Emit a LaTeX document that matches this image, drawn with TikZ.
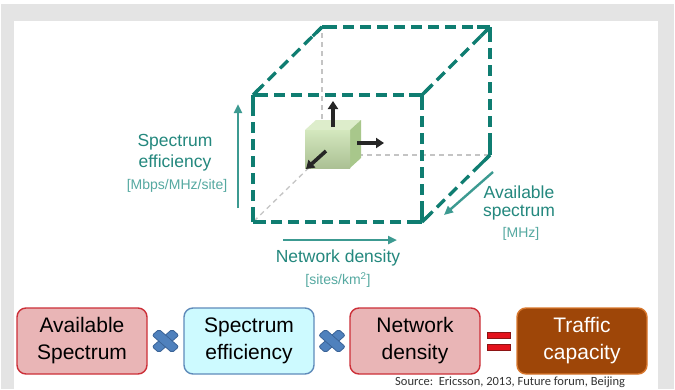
\documentclass[tikz,border=0pt]{standalone}
\usepackage{fontspec}
\setmainfont{Liberation Sans}
\newfontfamily\srcfont{Carlito}
\usetikzlibrary{arrows.meta,calc}

\definecolor{panelgray}{HTML}{E4E4E4}
\definecolor{cubeline}{HTML}{0F7D71}
\definecolor{axisteal}{HTML}{3C9A91}
\definecolor{labelteal}{HTML}{24887E}
\definecolor{unitteal}{HTML}{55A9A1}
\definecolor{hidden}{HTML}{C4C4C4}
\definecolor{pinkfill}{HTML}{E9B5B6}
\definecolor{pinkedge}{HTML}{CC2F38}
\definecolor{cyanfill}{HTML}{CDFAFF}
\definecolor{cyanedge}{HTML}{5F8BBA}
\definecolor{brownfill}{HTML}{9E4608}
\definecolor{brownedge}{HTML}{D9782E}
\definecolor{crossfill}{HTML}{4F81BD}
\definecolor{crossedge}{HTML}{3A6397}
\definecolor{eqfill}{HTML}{E3121C}
\definecolor{eqedge}{HTML}{8C1414}
\definecolor{greenfront}{HTML}{C9E2AE}
\definecolor{greentop}{HTML}{DDEDCB}
\definecolor{greenside}{HTML}{A8C78B}

\newcommand\cubeedge[2]{%
  \draw[edgedash] (#1) -- (#2);
  \draw[edgesolid] (#1) -- ($(#1)!13pt!(#2)$);
  \draw[edgesolid] (#2) -- ($(#2)!13pt!(#1)$);
}
\newcommand\timessign[1]{%
  \begin{scope}[shift={(#1)},yscale=0.88]
    \foreach \ang in {45,-45}{
      \filldraw[fill=crossfill,draw=crossedge,line width=0.8pt,rotate=\ang,rounded corners=2pt]
        (-14,-4.8) rectangle (14,4.8);
    }
    \fill[crossfill,rotate=45] (-4,-4) rectangle (4,4);
  \end{scope}
}

\begin{document}
\begin{tikzpicture}[x=1pt,y=-1pt,
  edgedash/.style={draw=cubeline,line width=3.3pt,dash pattern=on 11pt off 6pt,dash phase=-4pt},
  edgesolid/.style={draw=cubeline,line width=3.3pt,line cap=square},
  hiddenline/.style={draw=hidden,line width=1.3pt,dash pattern=on 5pt off 4pt},
  axisarrow/.style={draw=axisteal,line width=2.4pt,-{Triangle[length=9pt,width=8pt]}},
  pusharrow/.style={draw=black!85,line width=3.6pt,-{Triangle[length=8pt,width=10pt]}},
  axislabel/.style={text=labelteal,font=\fontsize{17.5}{20}\selectfont,inner sep=0pt},
  unitlabel/.style={text=unitteal,font=\fontsize{14}{16}\selectfont,inner sep=0pt},
  factor/.style={rounded corners=9pt,line width=1.4pt,minimum width=130pt,minimum height=66pt,
    align=center,font=\fontsize{21}{27}\selectfont,inner sep=0pt},
]
\useasboundingbox (0,0) rectangle (675,389);

% page frame
\fill[white] (0,0) rectangle (675,389);
\fill[panelgray] (1,4) rectangle (674,389);
\fill[white] (14,20.5) rectangle (658,389);

% cube vertices
\coordinate (F1) at (253,95);
\coordinate (F2) at (422,95);
\coordinate (F3) at (422,222);
\coordinate (F4) at (253,222);
\coordinate (B1) at (322,27);
\coordinate (B2) at (490,27);
\coordinate (B3) at (490,155);
\coordinate (B4) at (322,155);

% hidden edges
\draw[hiddenline] (B4) -- (B1);
\draw[hiddenline] (B4) -- (B3);
\draw[hiddenline] (B4) -- (F4);

% visible edges
\cubeedge{F1}{F2}
\cubeedge{F2}{F3}
\cubeedge{F3}{F4}
\cubeedge{F4}{F1}
\cubeedge{B1}{B2}
\cubeedge{B2}{B3}
\cubeedge{F1}{B1}
\cubeedge{F2}{B2}
\cubeedge{F3}{B3}

% small green cube
\coordinate (g1) at (305,130);
\coordinate (g2) at (350,130);
\coordinate (g3) at (350,168);
\coordinate (g4) at (305,168);
\coordinate (gd) at (11,-10);
\fill[greentop] (g1) -- (g2) -- ($(g2)+(gd)$) -- ($(g1)+(gd)$) -- cycle;
\fill[greenside] (g2) -- ($(g2)+(gd)$) -- ($(g3)+(gd)$) -- (g3) -- cycle;
\shade[top color=greenfront!80!white,bottom color=greenfront!85!black] (g1) rectangle (g3);

% growth arrows
\coordinate (upS) at (333,127);
\coordinate (upE) at (333,101);
\coordinate (rtS) at (357,143);
\coordinate (rtE) at (384,143);
\coordinate (dgS) at (326,151);
\coordinate (dgE) at (306,169);
\draw[pusharrow] (upS) -- (upE);
\draw[pusharrow] (rtS) -- (rtE);
\draw[pusharrow] (dgS) -- (dgE);

% axis arrows
\coordinate (vS) at (238,208);
\coordinate (vE) at (238,104);
\coordinate (hS) at (283,240);
\coordinate (hE) at (397,240);
\coordinate (dS) at (493,172);
\coordinate (dE) at (444,215);
\draw[axisarrow] (vS) -- (vE);
\draw[axisarrow] (hS) -- (hE);
\draw[axisarrow] (dS) -- (dE);

% axis labels
\node[axislabel] (se1) at (175,142) {Spectrum};
\node[axislabel] (se2) at (175,163) {efficiency};
\node[unitlabel] (se3) at (177,186) {[Mbps/MHz/site]};
\node[axislabel] (nd1) at (338,258) {Network density};
\node[unitlabel] (nd2) at (338,280) {[sites/km\textsuperscript{2}]};
\node[axislabel] (as1) at (519,192) {Available};
\node[axislabel] (as2) at (519,213) {spectrum};
\node[unitlabel] (as3) at (521,234) {[MHz]};

% capacity formula
\node[factor,fill=pinkfill,draw=pinkedge] (spec) at (82,341) {Available\\Spectrum};
\node[factor,fill=cyanfill,draw=cyanedge] (eff) at (249,341) {Spectrum\\efficiency};
\node[factor,fill=pinkfill,draw=pinkedge] (dens) at (415,341) {Network\\density};
\node[factor,fill=brownfill,draw=brownedge,text=white] (cap) at (582,341) {Traffic\\capacity};

\coordinate (x1) at ($(spec.east)!0.5!(eff.west)$);
\coordinate (x2) at ($(eff.east)!0.5!(dens.west)$);
\timessign{x1}
\timessign{x2}

\coordinate (eq) at ($(dens.east)!0.5!(cap.west)$);
\filldraw[fill=eqfill,draw=eqedge,line width=0.8pt] ($(eq)+(-11.5,-9)$) rectangle ($(eq)+(11.5,-3)$);
\filldraw[fill=eqfill,draw=eqedge,line width=0.8pt] ($(eq)+(-11.5,3)$) rectangle ($(eq)+(11.5,9)$);

\node[anchor=west,inner sep=0pt,text=black!80,font=\srcfont\fontsize{12.5}{14}\selectfont] (src) at (395,382)
  {Source:\ \ Ericsson, 2013, Future forum, Beijing};
\end{tikzpicture}
\end{document}
